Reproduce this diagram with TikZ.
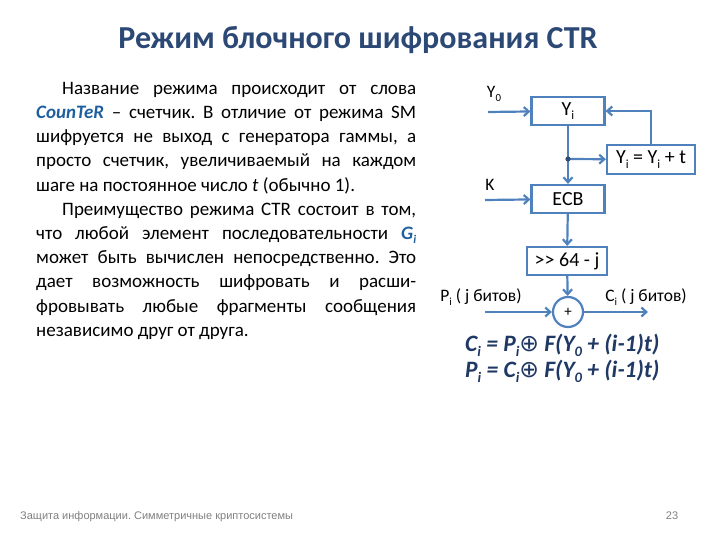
\documentclass[tikz,border=0pt]{standalone}
\usepackage{fontspec}
\setmainfont{Carlito}
\newfontfamily\footfont{Liberation Sans}
\newfontfamily\symfont{DejaVu Sans}
\usepackage{xcolor}
\usetikzlibrary{positioning,arrows.meta}
\definecolor{linecol}{RGB}{79,129,189}
\definecolor{titlecol}{RGB}{44,72,117}
\definecolor{wordcol}{RGB}{31,95,160}
\definecolor{formcol}{RGB}{31,56,100}
\frenchspacing
\newcommand{\lowsub}[1]{\raisebox{-0.45ex}{\scalebox{0.62}{#1}}}

\begin{document}
\begin{tikzpicture}[
  x=1pt, y=-1pt,
  block/.style={
    rectangle, draw=linecol, line width=2.2pt,
    minimum width=73pt, minimum height=28pt, inner sep=1pt,
    font=\fontsize{20}{22}\selectfont, align=center,
    fill=white
  },
  adder/.style={circle, draw=linecol, line width=2.2pt,
    minimum size=30pt, inner sep=0pt, font=\fontsize{15}{16}\selectfont},
  lbl/.style={font=\fontsize{17.5}{20}\selectfont, inner sep=0pt},
  arr/.style={-{Straight Barb[length=5pt,width=9pt]}, draw=linecol, line width=2.2pt},
  line/.style={draw=linecol, line width=2.2pt}
]
\useasboundingbox (0,0) rectangle (720,540);

% Title and text
\node[titlecol, font=\fontsize{32}{36}\selectfont\bfseries] (title) at (358,40) {Режим блочного шифрования CTR};

\node[anchor=north west, inner sep=0pt, text width=380pt, align=justify,
  font=\fontsize{19}{24.2}\selectfont] (body) at (36,82) {\hyphenpenalty=10000
  \hspace*{26pt}Название режима происходит от слова\linebreak
  \textcolor{wordcol}{\textbf{\textit{CounTeR}}} – счетчик. В отличие от режима SM\linebreak
  шифруется не выход с генератора гаммы, а\linebreak
  просто счетчик, увеличиваемый на каждом\linebreak
  шаге на постоянное число \textit{t} (обычно 1).\par
  \hspace*{26pt}Преимущество режима CTR состоит в том,\linebreak
  что любой элемент последовательности \textcolor{wordcol}{\textbf{\textit{G\lowsub{i}}}}\linebreak
  может быть вычислен непосредственно. Это\linebreak
  дает возможность шифровать и расши-\linebreak
  фровывать любые фрагменты сообщения\linebreak
  независимо друг от друга.};

% Blocks
\node[block] (Yi) at (568,111) {Y\lowsub{i}};
\node[block, minimum width=88pt, minimum height=29pt] (inc) at (651,159.5) {Y\lowsub{i} = Y\lowsub{i} + t};
\node[block] (ECB) at (568,199) {ECB};
\node[block, minimum width=80pt] (shift) at (567,261) {>{}> 64 - j};
\node[adder] (xor) at (568,312) {+};

\coordinate (Y0in) at (488,112);
\coordinate (Kin) at (485,200);
\coordinate (Pin) at (485,312);
\coordinate (Cout) at (648,312);
\coordinate (split) at (568,159);

% Edges
\draw[arr] (Y0in) -- (Yi);
\draw[line] (Yi) -- (split);
\draw[arr] (split) -- (ECB);
\draw[arr] (split) -- (inc);
\draw[arr] (inc.north) |- (Yi.east);
\fill[linecol!60!black] (split) circle (2.6pt);
\draw[arr] (Kin) -- (ECB);
\draw[arr] (ECB) -- (shift);
\draw[arr] (shift) -- (xor);
\draw[arr] (Pin) -- (xor);
\draw[arr] (xor) -- (Cout);

% Annotations
\node[lbl] (Y0) at (494,94) {Y\lowsub{0}};
\node[lbl] (K) at (490,185) {K};
\node[lbl] (P) at (481,297) {P\lowsub{i} ( j битов)};
\node[lbl] (C) at (646,297) {C\lowsub{i} ( j битов)};

\node[anchor=base west, formcol, inner sep=0pt, align=left,
  font=\fontsize{23.5}{26}\selectfont\bfseries\itshape] (form) at (465,377)
  {C\lowsub{i} = P\lowsub{i}{\upshape\symfont\mdseries ⊕} F(Y\lowsub{0} + (i-1)t)\\
   P\lowsub{i} = C\lowsub{i}{\upshape\symfont\mdseries ⊕} F(Y\lowsub{0} + (i-1)t)};

% Footer
\node[anchor=base west, gray, inner sep=0pt, font=\footfont\fontsize{11}{13}\selectfont] (foot) at (20,519) {Защита информации. Симметричные криптосистемы};
\node[anchor=base, gray, inner sep=0pt, font=\footfont\fontsize{11}{13}\selectfont] (page) at (672,519) {23};

\end{tikzpicture}
\end{document}
